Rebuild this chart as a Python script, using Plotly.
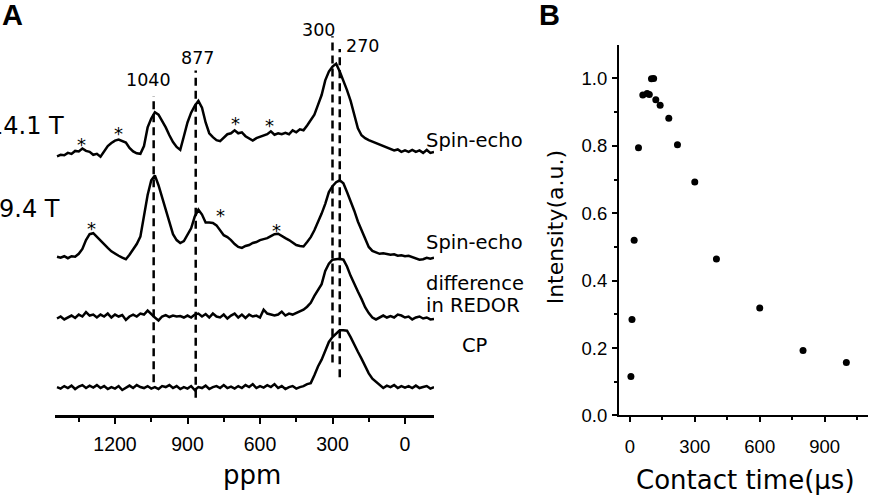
import plotly.graph_objects as go

# ---------------- Panel A data (spectra, height above each trace's baseline) ----------------
ppm = list(range(1440, -121, -15))

spin_echo_14T = [
    -1.5, 0, -0.5, 2, 1, 4, 3.5, 6.5, 4, 3,
    0, 1, -2, 4, 9, 12, 14.5, 15.5, 14, 12.5,
    7, 3.5, 1.5, 1, 9, 28, 37, 43.5, 41, 35,
    28, 20, 13, 8, 5, 19, 33, 43, 50, 55,
    48, 33, 22, 18, 15, 14, 18, 21, 22, 25,
    22, 23, 19, 17, 14.5, 17, 18.5, 20, 21, 24,
    20.5, 22, 21, 22.5, 21, 25, 23, 26, 25, 30,
    35, 41, 51, 61, 76, 85, 90, 93, 85, 76,
    66, 55, 40, 27, 20, 17, 15, 13.5, 12.5, 11,
    9.5, 8, 6, 4.5, 5.5, 3, 4.5, 3, 5, 3,
    4.5, 2, 5, 2, 3,
]

spin_echo_9T = [
    0, -1, 0.5, -1.5, 0.5, 0, 3, 8, 17, 23,
    24, 20, 17, 13, 9, 5.5, 3, 1, -1, -2.5,
    2, 7, 13, 20.5, 42, 63, 78, 83, 73, 61,
    49, 36, 23, 17, 14, 16, 22, 29, 41, 48,
    43, 35, 35, 34.5, 32, 27, 22, 20, 17, 13,
    10, 9, 11, 12, 14, 15, 17, 18, 19, 21,
    23, 23.5, 21, 19, 17, 14.5, 12, 11, 10.5, 15,
    20, 27, 35, 44, 54, 66, 72, 76, 78, 75,
    66, 57, 47, 36, 27, 18, 10, 6, 4.5, 3,
    3.5, 2.5, 2, 2.5, 1, 1.5, 0.5, 1, -0.5, -2,
    -3, -2.5, -1, -2, -1,
]

redor_difference = [
    -2, 0, -3, -1, 1, -1.5, 2, 0, 4.5, 1,
    2, -1, 2, 0, 3, -1, 2, 0, 1.5, -3.5,
    0, 2, 0, 3, 2, 6, 2, -1, -4, 0,
    1.5, -0.5, 1, 0, 0.5, -1, 1, -1, 2, 3,
    0, 2.5, -1, 3, 0, -1, 2, -2, 1, 3,
    -1, 2, -1.5, 2, 0, 1, -1, 7, 3, 2,
    1, 2, 5, 1, 3, 2, 3.5, 5, 7, 10,
    14, 21, 27.5, 33, 46.5, 54, 58, 58.5, 59, 58,
    51, 41.5, 33, 25.5, 18, 9.5, 3.5, -1, -3, -1,
    1, -1, 0.5, -1, 2, 1, -1, 0, -3, -1,
    0, -2, -1, -3, -2.5,
]

cp = [
    0, -1.5, 1, -1, 1.5, -2, 0.5, 2, -1, 1.5,
    -0.5, 2, -1, 1, -2, 0, -1.5, 1, -3, -1,
    1.5, -1, 2, 0, -1, 1, -1.5, 0, -2, 1,
    0, 2, -1, 1, -2, 0, -1.5, 1, -3, 0,
    -1, 1.5, -2, 0, 1, -1, 2, -1, 0.5, -1.5,
    1, -1, 2, 0, 3, -1, 1, -0.5, 2, 0,
    3, -1, 1, -2, 0, 1, -1.5, 0, 1, 3,
    4, 12, 21, 28, 37, 46, 51, 55, 58, 58,
    57.5, 51, 43, 36, 29, 21, 14, 8.5, 5, 2,
    -1, 1.5, 0, 2, -1, 1, -0.5, 1, -1, 1.5,
    -1, 0, 1, -1.5, 0,
]

spectra = [spin_echo_14T, spin_echo_9T, redor_difference, cp]
spectrum_offsets = [266, 162, 101, 29]

marker_labels = ["1040", "877", "300", "270"]
marker_ppm = [1040, 866, 300, 270]   # where the dashed guides are drawn in the figure

ppm_ticks = [1200, 900, 600, 300, 0]
ppm_minor = [1350, 1050, 750, 450, 150]

# ---------------- Panel B data ----------------
contact_time = [5, 10, 20, 40, 60, 80, 90, 100, 110, 120, 140, 180, 220, 300, 400, 600, 800, 1000]
intensity = [0.116, 0.285, 0.52, 0.794, 0.951, 0.955, 0.952, 0.999, 1.0, 0.937,
             0.92, 0.882, 0.803, 0.693, 0.464, 0.319, 0.193, 0.157]
time_ticks = [0, 300, 600, 900]
time_minor = [150, 450, 750, 1050]
int_ticks = [0.0, 0.2, 0.4, 0.6, 0.8, 1.0]
int_minor = [0.1, 0.3, 0.5, 0.7, 0.9]

# ---------------- figure ----------------
W, H = 872, 498


def px(x):
    return x / W


def py(y):
    return 1 - y / H


VERD = "DejaVu Sans, Verdana, sans-serif"
ARIAL = "Liberation Sans, Arial, sans-serif"

fig = go.Figure()

for vals, off in zip(spectra, spectrum_offsets):
    fig.add_trace(go.Scatter(
        x=ppm, y=[v + off for v in vals], mode="lines",
        line=dict(color="black", width=2.5), xaxis="x", yaxis="y",
        showlegend=False, hoverinfo="skip"))

fig.add_trace(go.Scatter(
    x=contact_time, y=intensity, mode="markers",
    marker=dict(color="black", size=7), xaxis="x2", yaxis="y2",
    showlegend=False))

# dashed reference lines (vertical extent in panel-A units)
line_spans = [(34, 326), (18, 352), (54, 387), (39, 374)]
shapes = []
for p, (y0, y1) in zip(marker_ppm, line_spans):
    shapes.append(dict(type="line", xref="x", yref="y", x0=p, x1=p, y0=y0, y1=y1,
                       line=dict(color="black", width=2.5, dash="8px,5px")))

ann = []


def text(x, y, s, size, family=VERD, xanchor="center", yanchor="middle", angle=0, bold=False):
    ann.append(dict(x=px(x), y=py(y), xref="paper", yref="paper", text=s, showarrow=False,
                    xanchor=xanchor, yanchor=yanchor, textangle=angle,
                    font=dict(size=size, family=family, color="black",
                              weight="bold" if bold else "normal")))


text(12, 15, "A", 29, ARIAL, bold=True)
text(549, 15, "B", 29, ARIAL, bold=True)
text(66, 129, "14.1 T", 24, xanchor="right")
text(62, 213, "9.4 T", 24, xanchor="right")

label_pos = [(148, 82), (197, 59), (318, 31), (362, 47)]
for (x, y), s in zip(label_pos, marker_labels):
    text(x, y, s, 17.5)

text(424, 143, "Spin-echo", 19.5, xanchor="left")
text(424, 247, "Spin-echo", 19.5, xanchor="left")
text(424, 289, "difference", 19.5, xanchor="left")
text(424, 312, "in REDOR", 19.5, xanchor="left")
text(475, 353, "CP", 19.5)

for x, y in [(81.7, 147), (118.3, 136), (235, 126), (269.3, 128.5),
             (91.7, 233), (220, 219.5), (276, 235.5)]:
    text(x, y, "*", 18)

text(252, 485, "ppm", 26)
text(745, 490, "Contact time(\u03bcs)", 26)
text(555, 232, "Intensity(a.u.)", 22, angle=-90)

fig.update_layout(
    width=W, height=H, margin=dict(l=0, r=0, t=0, b=0),
    paper_bgcolor="white", plot_bgcolor="white",
    shapes=shapes, annotations=ann,
    xaxis=dict(domain=[px(55), px(434)], range=[1448.3, -120], anchor="y",
               showline=True, linecolor="black", linewidth=2.5, mirror=False,
               ticks="outside", ticklen=6, tickwidth=2, tickcolor="black",
               tickvals=ppm_ticks, ticktext=[str(v) for v in ppm_ticks],
               minor=dict(tickvals=ppm_minor, ticks="outside", ticklen=4, tickwidth=2, tickcolor="black"),
               tickfont=dict(size=19.5, family=ARIAL, color="black"),
               showgrid=False, zeroline=False, ticklabelstandoff=3),
    yaxis=dict(domain=[py(424), py(20)], range=[0, 404], visible=False, fixedrange=True),
    xaxis2=dict(domain=[px(619), px(868)], range=[-50, 1100], anchor="y2",
                showline=True, linecolor="black", linewidth=2, mirror=False,
                ticks="outside", ticklen=5, tickwidth=2, tickcolor="black",
                tickvals=time_ticks, ticktext=[str(v) for v in time_ticks],
                minor=dict(tickvals=time_minor, ticks="outside", ticklen=3, tickwidth=2, tickcolor="black"),
                tickfont=dict(size=18.5, family=ARIAL, color="black"),
                showgrid=False, zeroline=False, ticklabelstandoff=8),
    yaxis2=dict(domain=[py(424), py(45.6)], range=[0, 1.1], anchor="x2",
                showline=True, linecolor="black", linewidth=2, mirror=False,
                ticks="outside", ticklen=5, tickwidth=2, tickcolor="black",
                tickvals=int_ticks, ticktext=["%.1f" % v for v in int_ticks],
                minor=dict(tickvals=int_minor, ticks="outside", ticklen=3, tickwidth=2, tickcolor="black"),
                tickfont=dict(size=18.5, family=ARIAL, color="black"),
                showgrid=False, zeroline=False, ticklabelstandoff=1),
)

fig.write_html("out.html")
